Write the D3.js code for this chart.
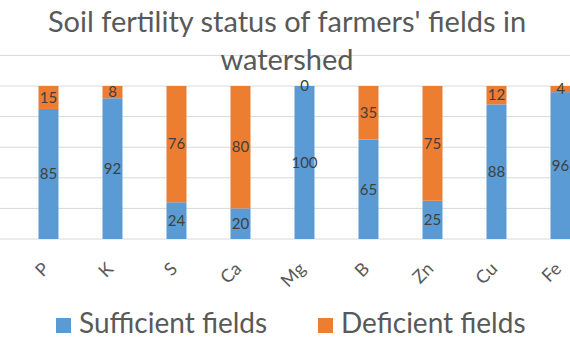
<!DOCTYPE html>
<html>
<head>
<meta charset="utf-8">
<script src="https://cdn.jsdelivr.net/npm/d3@7"></script>
<style>
  body { margin: 0; background: #fff; }
  svg { display: block; }
  text { font-family: Lato, "Open Sans", sans-serif; }
</style>
</head>
<body>
<svg width="570" height="350"></svg>
<script>
let nutrients = ["P", "K", "S", "Ca", "Mg", "B", "Zn", "Cu", "Fe"];
let sufficient = [85, 92, 24, 20, 100, 65, 25, 88, 96];
let deficient = [15, 8, 76, 80, 0, 35, 75, 12, 4];
let seriesNames = ["Sufficient fields", "Deficient fields"];
let seriesColors = ["#5b9bd5", "#ed7d31"];
let gridTicks = [0, 20, 40, 60, 80, 100, 120];

let svg = d3.select("svg");
let width = 570;

// rows for the stack
let rows = nutrients.map((n, i) => ({ name: n, Sufficient: sufficient[i], Deficient: deficient[i] }));
let stacked = d3.stack().keys(["Sufficient", "Deficient"])(rows);

// plot is cropped on the left/right like the picture
let x = d3.scaleBand()
  .domain(nutrients)
  .range([16.5, 16.5 + 64 * nutrients.length])
  .paddingInner(0.6875)
  .paddingOuter(0.34375);

let y = d3.scaleLinear().domain([0, 120]).range([239, 55.4]);

// gridlines
svg.append("g")
  .selectAll("line")
  .data(gridTicks)
  .enter()
  .append("line")
  .attr("x1", 0)
  .attr("x2", width)
  .attr("y1", d => y(d))
  .attr("y2", d => y(d))
  .attr("stroke", "#d9d9d9")
  .attr("stroke-width", 1);

// bars
let layers = svg.selectAll(".layer")
  .data(stacked)
  .enter()
  .append("g")
  .attr("class", "layer")
  .attr("fill", (d, i) => seriesColors[i]);

layers.selectAll("rect")
  .data(d => d)
  .enter()
  .append("rect")
  .attr("x", d => x(d.data.name))
  .attr("width", x.bandwidth())
  .attr("y", d => y(d[1]))
  .attr("height", d => y(d[0]) - y(d[1]));

// data labels, centred in each segment
layers.selectAll("text")
  .data(d => d)
  .enter()
  .append("text")
  .attr("x", d => x(d.data.name) + x.bandwidth() / 2)
  .attr("y", d => (y(d[0]) + y(d[1])) / 2)
  .attr("dy", "0.35em")
  .attr("text-anchor", "middle")
  .attr("fill", "#404040")
  .style("font-size", "15px")
  .text(d => d[1] - d[0]);

// category labels at -45deg
let labelY = 270;
svg.append("g")
  .selectAll("text")
  .data(nutrients)
  .enter()
  .append("text")
  .attr("x", d => x(d) + x.bandwidth() / 2 + 2)
  .attr("y", labelY)
  .attr("transform", d => "rotate(-45 " + (x(d) + x.bandwidth() / 2 + 2) + " " + labelY + ")")
  .attr("text-anchor", "end")
  .attr("fill", "#595959")
  .style("font-size", "18px")
  .text(d => d);

// title
let title = svg.append("text")
  .attr("text-anchor", "middle")
  .attr("fill", "#595959")
  .style("font-size", "29px");
title.append("tspan").attr("x", 287).attr("y", 32).text("Soil fertility status of farmers' fields in");
title.append("tspan").attr("x", 287).attr("y", 70).text("watershed");

// legend
let legend = svg.append("g");
let legendX = [56, 318];
seriesNames.forEach((s, i) => {
  legend.append("rect")
    .attr("x", legendX[i])
    .attr("y", 318)
    .attr("width", 15)
    .attr("height", 15)
    .attr("fill", seriesColors[i]);
  legend.append("text")
    .attr("x", legendX[i] + 23)
    .attr("y", 333)
    .attr("fill", "#595959")
    .style("font-size", "28px")
    .text(s);
});
</script>
</body>
</html>
